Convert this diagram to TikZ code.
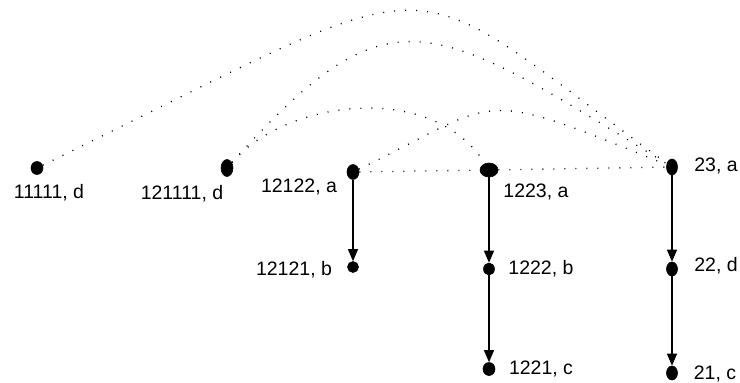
\documentclass[tikz,border=0pt]{standalone}
\usepackage{fontspec}
\setmainfont{Liberation Sans}
\usetikzlibrary{arrows.meta,shapes.geometric}
\begin{document}
\begin{tikzpicture}[x=1pt,y=-1pt,
  vert/.style={ellipse, fill=black, draw=black, line width=0.6pt, inner sep=0pt},
  lbl/.style={font=\fontsize{19.5}{22}\selectfont, inner sep=0pt},
  flow/.style={-{Triangle[width=10pt,length=12pt]}, line width=1.2pt},
  link/.style={line width=1.3pt, dash pattern=on 1pt off 10pt, black}]
\useasboundingbox (0,0) rectangle (740,383);

% vertices
\node[vert, minimum width=12pt, minimum height=13pt] (n11111)  at (37,168) {};
\node[vert, minimum width=12pt, minimum height=17pt] (n121111) at (227,168) {};
\node[vert, minimum width=12pt, minimum height=15pt] (n12122)  at (353,172) {};
\node[vert, minimum width=11pt, minimum height=11pt] (n12121)  at (353,267) {};
\node[vert, minimum width=18pt, minimum height=14pt] (n1223)   at (489,170) {};
\node[vert, minimum width=11pt, minimum height=12pt] (n1222)   at (489,269) {};
\node[vert, minimum width=12pt, minimum height=13pt] (n1221)   at (489,369) {};
\node[vert, minimum width=11pt, minimum height=16pt] (n23)     at (672,167) {};
\node[vert, minimum width=11pt, minimum height=14pt] (n22)     at (672,269) {};
\node[vert, minimum width=11pt, minimum height=14pt] (n21)     at (672,373) {};

% labels
\node[lbl] (t11111)  at (49,193)  {11111, d};
\node[lbl] (t121111) at (182,194) {121111, d};
\node[lbl] (t12122)  at (299,187) {12122, a};
\node[lbl] (t12121)  at (294,270) {12121, b};
\node[lbl] (t1223)   at (536,192) {1223, a};
\node[lbl] (t1222)   at (541,269) {1222, b};
\node[lbl] (t1221)   at (541,369) {1221, c};
\node[lbl] (t23)     at (716,166) {23, a};
\node[lbl] (t22)     at (716,266) {22, d};
\node[lbl] (t21)     at (715,374) {21, c};

% parent links
\draw[flow] (n12122) -- (n12121);
\draw[flow] (n1223) -- (n1222);
\draw[flow] (n1222) -- (n1221);
\draw[flow] (n23) -- (n22);
\draw[flow] (n22) -- (n21);

% dotted relations
\draw[link] (n11111) .. controls (467,-42) and (386,-40) .. (n23);
\draw[link] (n121111) .. controls (391,-14) and (428,17) .. (n23);
\draw[link] (n121111) .. controls (287,99) and (433,81) .. (n1223);
\draw[link] (n12122) .. controls (504,99) and (472,85) .. (n23);
\draw[link] (n12122) -- (n1223);
\draw[link] (n1223) -- (n23);
\end{tikzpicture}
\end{document}
